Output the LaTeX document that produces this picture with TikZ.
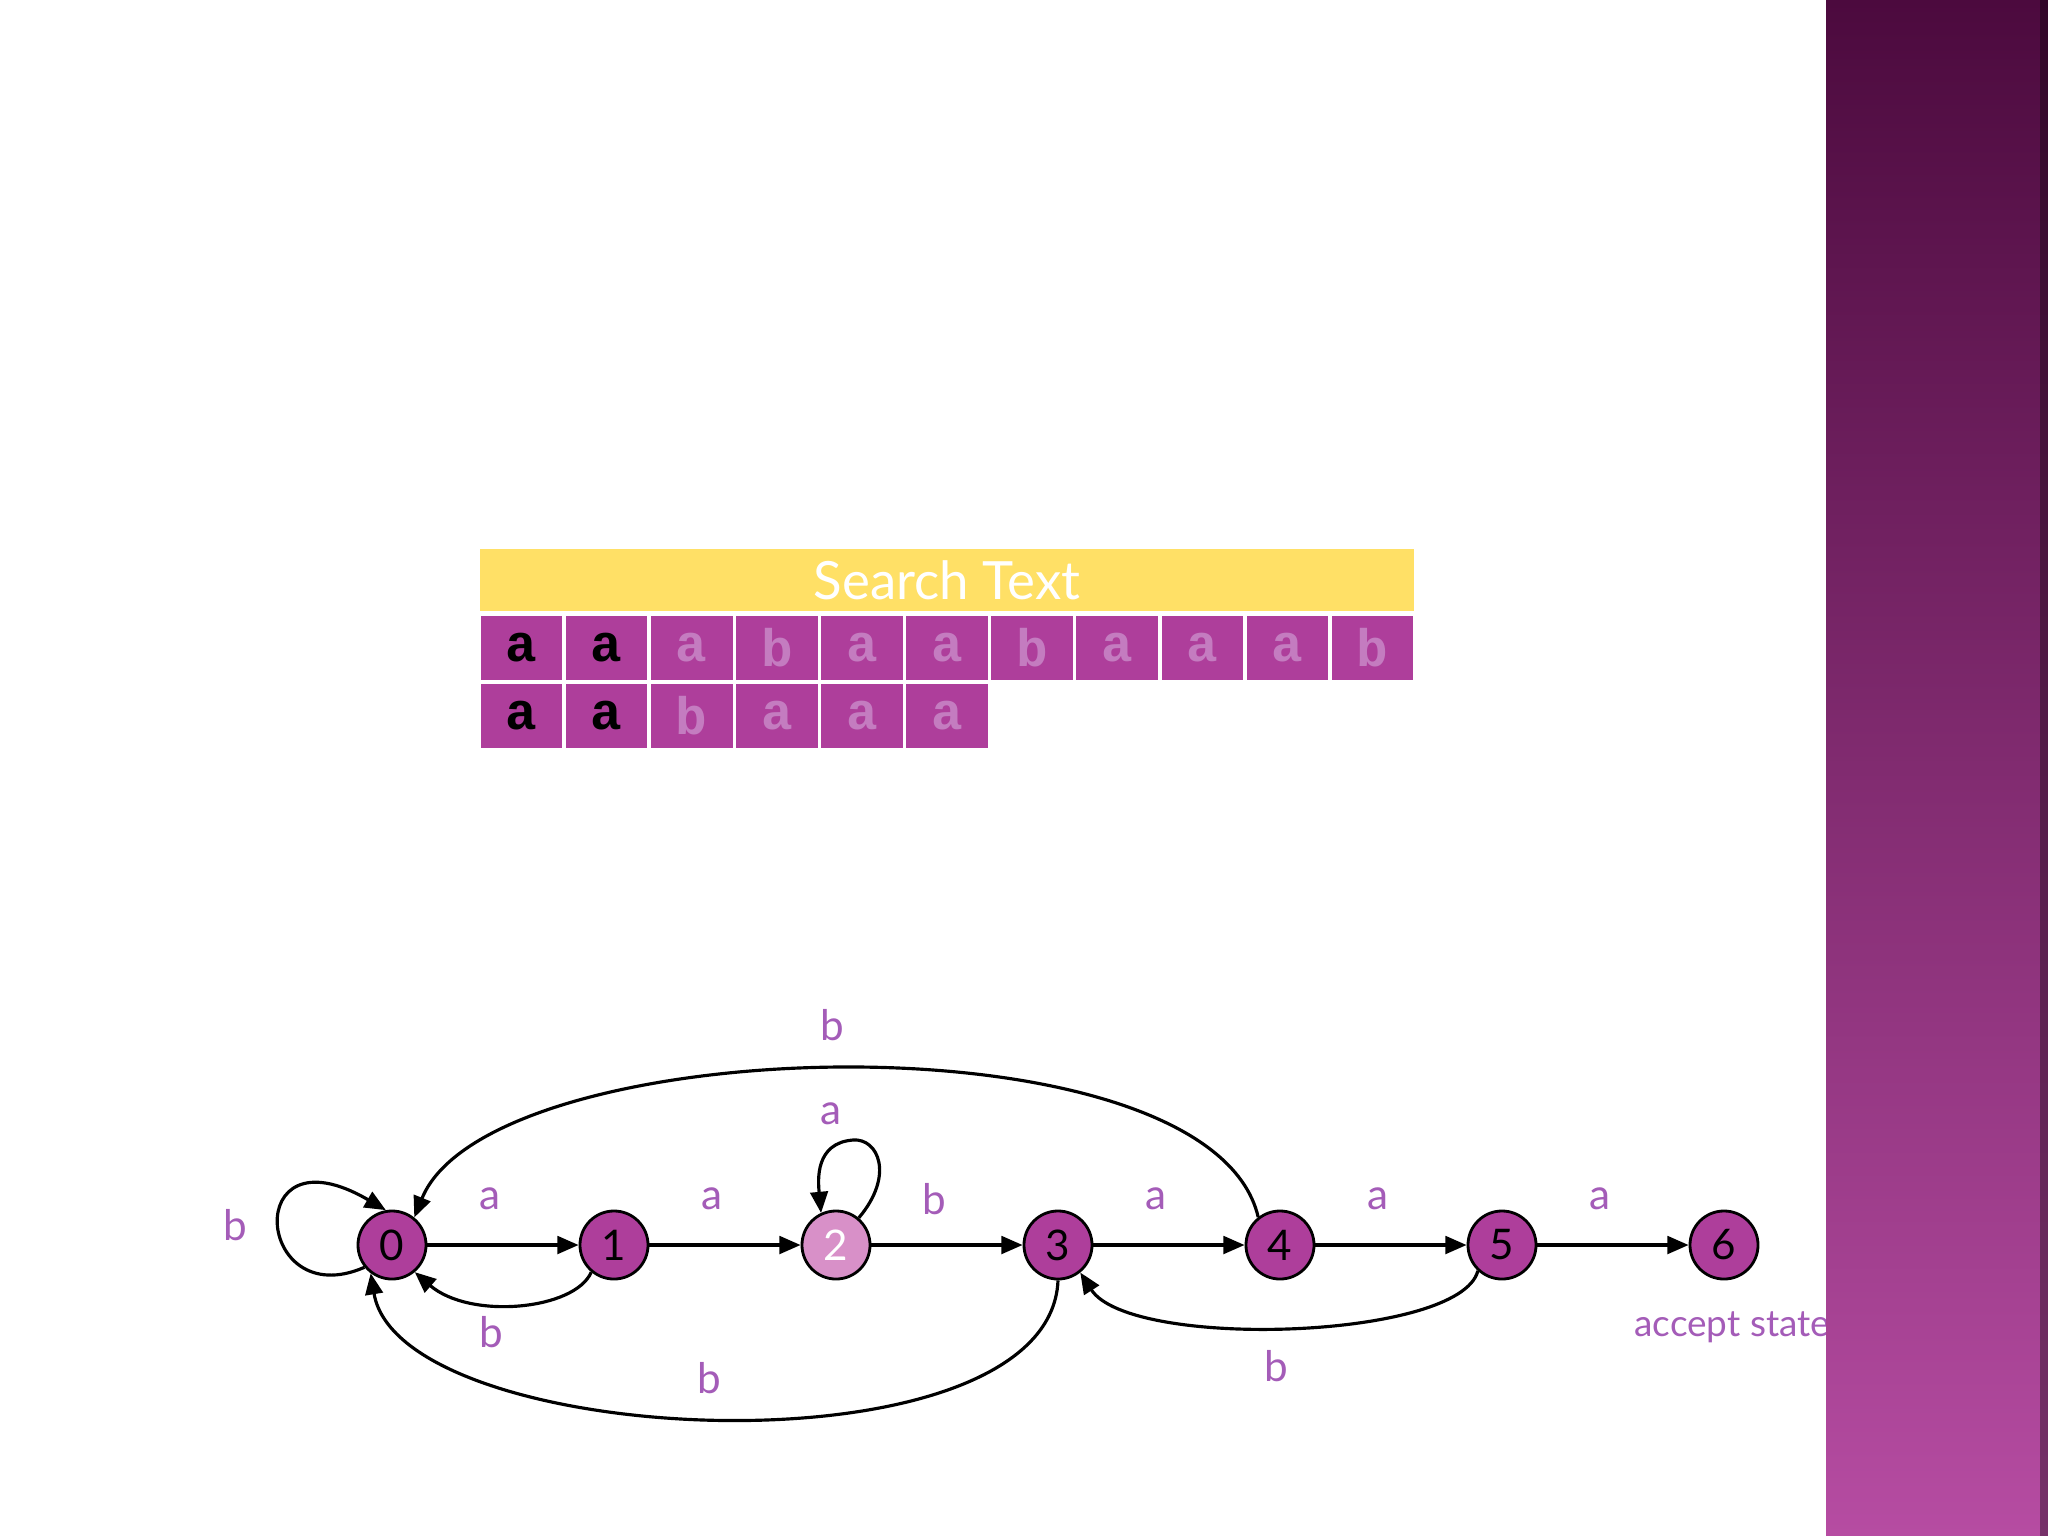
\documentclass[tikz,border=0pt]{standalone}
\usepackage{fontspec}
\setmainfont{Lato}
\newfontfamily\cellfont{Liberation Mono}
\usetikzlibrary{arrows.meta}
\definecolor{cellpurple}{HTML}{AE3E9B}
\definecolor{lightstate}{HTML}{D890C8}
\definecolor{lblpurple}{HTML}{A45CB8}
\definecolor{faded}{HTML}{C47CC0}
\definecolor{headyellow}{HTML}{FFE066}
\definecolor{bartop}{HTML}{4C0A3E}
\definecolor{barbot}{HTML}{B64CA2}
\tikzset{
  state/.style={circle, draw=black, line width=0.8pt, fill=cellpurple, minimum size=0.68cm, inner sep=0pt, font=\fontsize{12}{14}\selectfont},
  edge/.style={-{Triangle[length=6pt,width=5pt]}, line width=0.9pt},
  lbl/.style={text=lblpurple, font=\fontsize{12}{14}\selectfont},
  cell/.style={draw=white, line width=1pt, fill=cellpurple, minimum width=0.851cm, minimum height=0.67cm, inner sep=0pt, font=\cellfont\bfseries\fontsize{15}{17}\selectfont},
  header/.style={draw=white, line width=1pt, fill=headyellow, text=white, minimum width=9.36cm, minimum height=0.66cm, inner sep=0pt, font=\fontsize{15}{17}\selectfont}
}
\begin{document}
\begin{tikzpicture}[x=0.01cm,y=-0.01cm]
\useasboundingbox (0,0) rectangle (2048,1536);
\fill[white] (0,0) rectangle (2048,1536);

\node[header] (head) at (947,580) {Search Text};
\foreach \ch/\col [count=\i] in {a/black,a/black,a/faded,b/faded,a/faded,a/faded,b/faded,a/faded,a/faded,a/faded,b/faded}
  \node[cell, text=\col] (t\i) at (436.45+85.1*\i,648) {\ch};
\foreach \ch/\col [count=\i] in {a/black,a/black,b/faded,a/faded,a/faded,a/faded}
  \node[cell, text=\col] (p\i) at (436.45+85.1*\i,716) {\ch};

\node[state] (s0) at (392,1245) {0};
\node[state] (s1) at (614,1245) {1};
\node[state, fill=lightstate, text=white] (s2) at (836,1245) {2};
\node[state] (s3) at (1058,1245) {3};
\node[state] (s4) at (1280,1245) {4};
\node[state] (s5) at (1502,1245) {5};
\node[state] (s6) at (1724,1245) {6};

\draw[edge] (s0) -- (s1);
\draw[edge] (s1) -- (s2);
\draw[edge] (s2) -- (s3);
\draw[edge] (s3) -- (s4);
\draw[edge] (s4) -- (s5);
\draw[edge] (s5) -- (s6);
\draw[edge] (s0.219) .. controls (255,1315) and (240,1125) .. (s0.100);
\draw[edge] (s2.50) .. controls (895,1175) and (878,1138) .. (853,1140) .. controls (815,1143) and (818,1180) .. (s2.115);
\draw[edge] (s1.230) .. controls (575,1310) and (470,1320) .. (s0.310);
\draw[edge] (s3.270) .. controls (1050,1480) and (400,1450) .. (s0.233);
\draw[edge] (s4.128) .. controls (1210,1010) and (490,1030) .. (s0.51);
\draw[edge] (s5.227) .. controls (1460,1340) and (1130,1350) .. (s3.309);

\node[lbl] (l01) at (490,1199) {a};
\node[lbl] (l12) at (712,1199) {a};
\node[lbl] (l23) at (934,1199) {b};
\node[lbl] (l34) at (1156,1199) {a};
\node[lbl] (l45) at (1378,1199) {a};
\node[lbl] (l56) at (1600,1199) {a};
\node[lbl] (l00) at (235,1225) {b};
\node[lbl] (l22) at (831,1114) {a};
\node[lbl] (l10) at (491,1332) {b};
\node[lbl] (l30) at (709,1378) {b};
\node[lbl] (l40) at (832,1025) {b};
\node[lbl] (l53) at (1276,1366) {b};
\node[lbl, anchor=west, font=\fontsize{10.5}{13}\selectfont] (acc) at (1622,1327) {accept state};

\shade[top color=bartop, bottom color=barbot] (1826,0) rectangle (2048,1536);
\fill[black, opacity=0.35] (2040,0) rectangle (2048,1536);
\end{tikzpicture}
\end{document}
